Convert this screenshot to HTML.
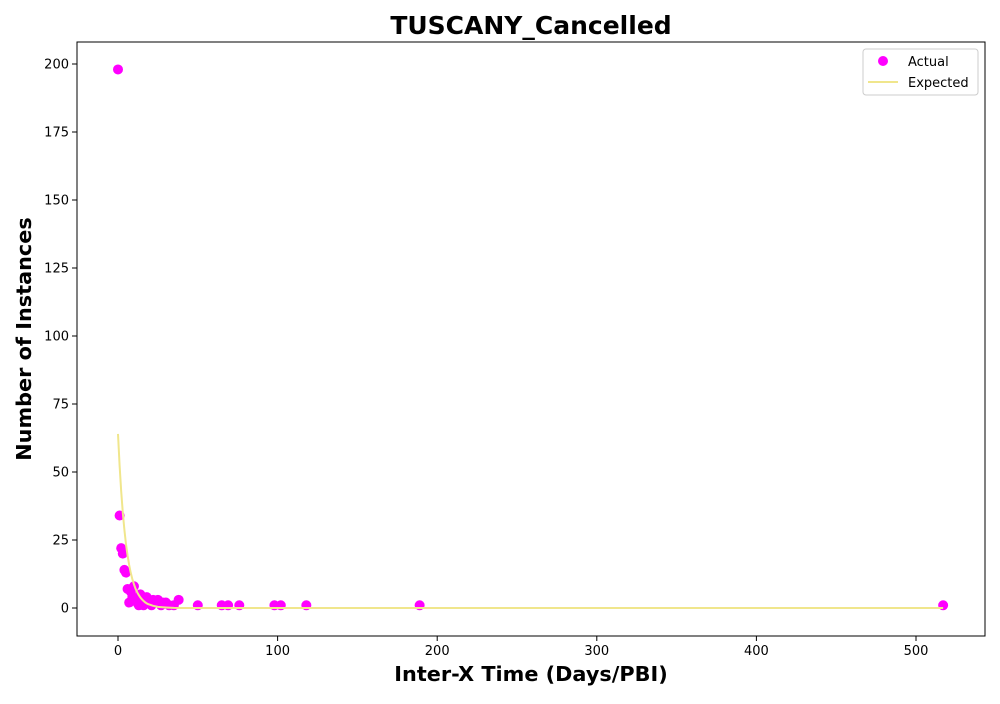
<!DOCTYPE html>
<html><head><meta charset="utf-8"><style>
body{margin:0;background:#fff;font-family:"DejaVu Sans","Liberation Sans",sans-serif}
</style></head><body>
<svg id="chart" width="1000" height="700" xmlns="http://www.w3.org/2000/svg" font-family="DejaVu Sans, Liberation Sans, sans-serif"></svg>
<script>
const actualX=[0,1,2,3,4,5,6,7,8,9,10,11,12,13,14,15,16,17,18,20,21,22,24,25,27,28,30,32,35,38,50,65,69,76,98,102,118,189,517];
const actualY=[198,34,22,20,14,13,7,2,6,4,8,3,2,1,5,2,1,3,4,2,1,3,2,3,1,2,2,1,1,3,1,1,1,1,1,1,1,1,1];
const expectedX=[0,1,2,3,4,5,6,7,8,9,10,11,12,13,14,15,16,17,18,19,20,22,25,30,35,40,517];
const expectedY=[64,52.4,42.9,35.1,28.8,23.5,19.3,15.8,12.9,10.6,8.7,7.1,5.8,4.8,3.9,3.2,2.6,2.1,1.7,1.4,1.2,0.8,0.4,0.2,0.05,0.02,0];
const xTicks=[0,100,200,300,400,500];
const yTicks=[0,25,50,75,100,125,150,175,200];
const NS="http://www.w3.org/2000/svg";
const svg=document.getElementById('chart');
const L=77,R=985,T=42,B=636;
const sx=v=>118+v*1.596;
const sy=v=>608-v*2.72;
function mk(tag,attrs,parent){const e=document.createElementNS(NS,tag);for(const k in attrs)e.setAttribute(k,attrs[k]);(parent||svg).appendChild(e);return e;}
const frame=mk('rect',{x:L,y:T,width:R-L,height:B-T,fill:'none',stroke:'#000','stroke-width':1});


xTicks.forEach(t=>{
  const g=mk('g',{});
  
  
  mk('line',{x1:sx(t),x2:sx(t),y1:B,y2:B+5,stroke:'#000'},g);
  const tx=mk('text',{x:sx(t),y:B+19,'text-anchor':'middle','font-size':13},g);tx.textContent=t;
});
yTicks.forEach(t=>{
  const g=mk('g',{});
  
  
  mk('line',{x1:L-5,x2:L,y1:sy(t),y2:sy(t),stroke:'#000'},g);
  const tx=mk('text',{x:L-8,y:sy(t)+4.5,'text-anchor':'end','font-size':13},g);tx.textContent=t;
});
actualX.forEach((x,i)=>{
  const c=mk('circle',{cx:sx(x),cy:sy(actualY[i]),r:5,fill:'#ff00ff'});
  
  
});
const line=mk('polyline',{points:expectedX.map((x,i)=>sx(x)+','+sy(expectedY[i])).join(' '),fill:'none',stroke:'#f0e68c','stroke-width':2});


const title=mk('text',{x:531,y:34,'text-anchor':'middle','font-size':25,'font-weight':'bold'});title.textContent='TUSCANY_Cancelled';


const xl=mk('text',{x:531,y:681,'text-anchor':'middle','font-size':20.8,'font-weight':'bold'});xl.textContent='Inter-X Time (Days/PBI)';


const yl=mk('text',{x:31,y:339,'text-anchor':'middle','font-size':20.8,'font-weight':'bold',transform:'rotate(-90 31 339)'});yl.textContent='Number of Instances';


const lg=mk('g',{});


mk('rect',{x:863,y:49,width:115,height:46,rx:3,fill:'#fff',stroke:'#ccc'},lg);
mk('circle',{cx:883,cy:61,r:5,fill:'#ff00ff'},lg);
const t1=mk('text',{x:908,y:66,'font-size':13},lg);t1.textContent='Actual';
mk('line',{x1:868,x2:898,y1:82,y2:82,stroke:'#f0e68c','stroke-width':2},lg);
const t2=mk('text',{x:908,y:87,'font-size':13},lg);t2.textContent='Expected';
</script>
</body></html>
